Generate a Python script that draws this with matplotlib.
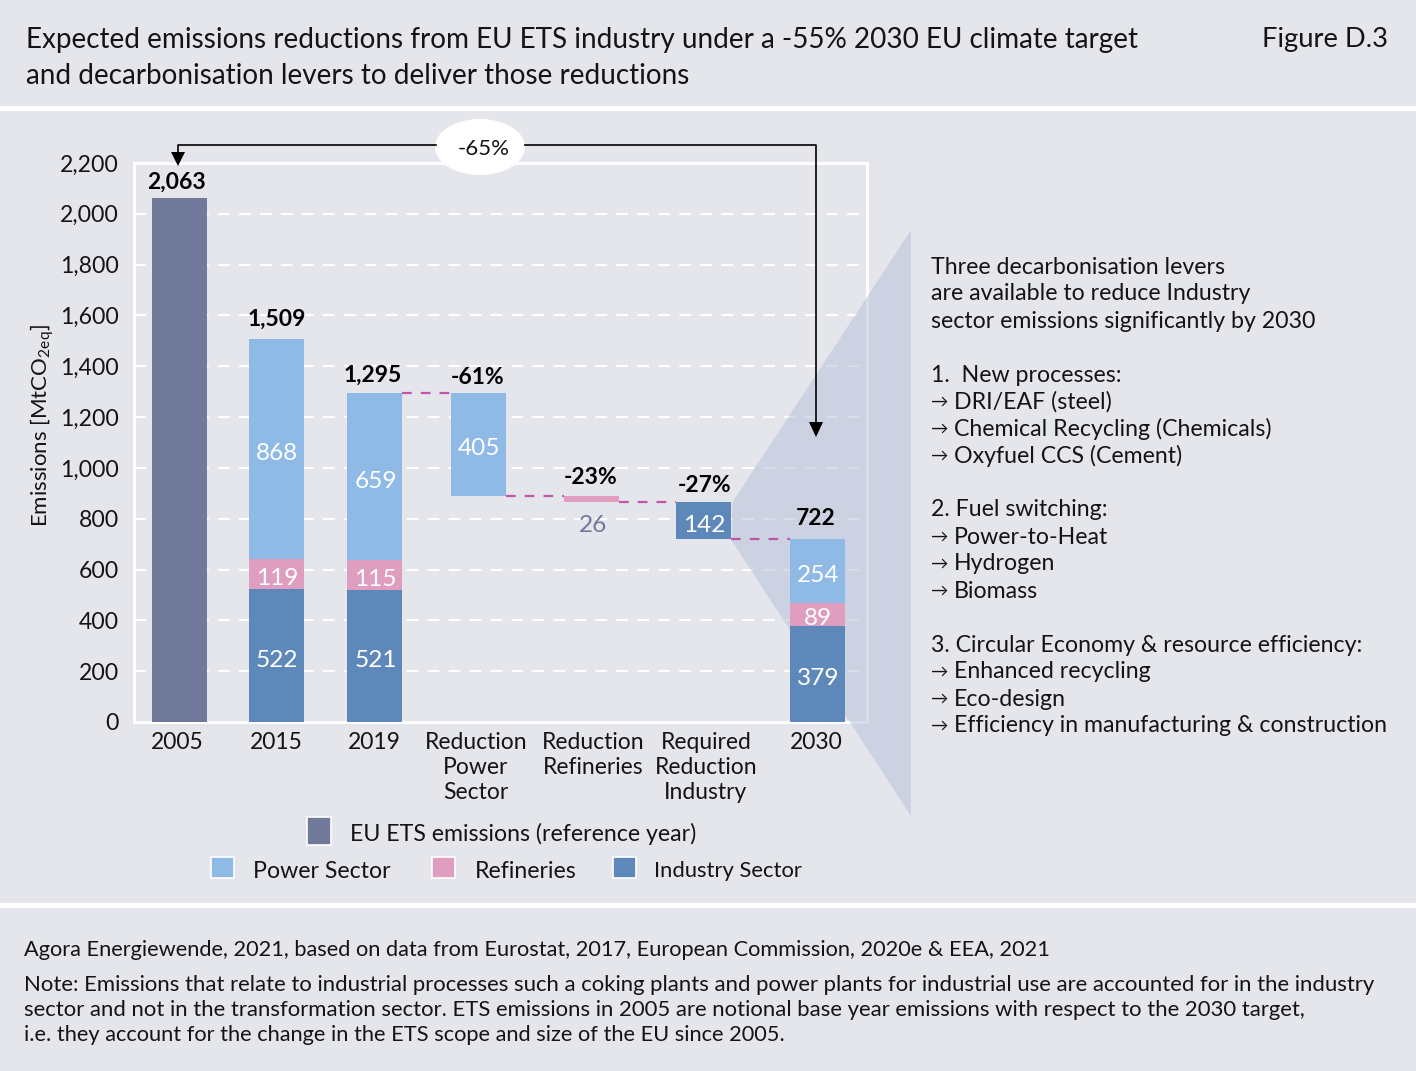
"""Expected emissions reductions from EU ETS industry, stacked waterfall with lever notes."""
import matplotlib
matplotlib.use("Agg")
import matplotlib.pyplot as plt
from matplotlib.patches import Ellipse, Polygon, Rectangle

plt.rcParams["font.family"] = ["Lato", "DejaVu Sans"]
plt.rcParams["mathtext.default"] = "regular"
plt.rcParams["lines.scale_dashes"] = False

# data
years_ref = 2063
power = [868, 659]
refineries = [119, 115]
industry = [522, 521]
total_labels = ["1,509", "1,295"]
power_2030, refineries_2030, industry_2030 = 254, 89, 379
reductions = [405, 26, 142]
reduction_labels = ["-61%", "-23%", "-27%"]
yticks = list(range(0, 2201, 200))
xlabels = ["2005", "2015", "2019", "Reduction\nPower\nSector", "Reduction\nRefineries",
           "Required\nReduction\nIndustry", "2030"]
lever_lines = [
    "Three decarbonisation levers", "are available to reduce Industry",
    "sector emissions significantly by 2030", "",
    "1.  New processes:", "→ DRI/EAF (steel)", "→ Chemical Recycling (Chemicals)",
    "→ Oxyfuel CCS (Cement)", "",
    "2. Fuel switching:", "→ Power-to-Heat", "→ Hydrogen", "→ Biomass", "",
    "3. Circular Economy & resource efficiency:", "→ Enhanced recycling", "→ Eco-design",
    "→ Efficiency in manufacturing & construction",
]

# colours and layout (pixels)
W, H = 1416, 1071
BG = "#e4e6ec"
C_REF, C_POWER, C_REFI, C_IND = "#727a9c", "#90bae6", "#df9dc0", "#5d88b9"
C_LINK = "#c155a8"
TXT = "#141414"
BAR_X = [179, 276, 374.5, 478, 591, 703.5, 817]
BAR_W = 55
TICK_X = [177, 276, 374, 476, 593, 706, 816]
AX_L, AX_R, AX_T, AX_B = 134, 867, 163, 722
VAL_SHIFT = 18  # inside-bar labels sit a little below the segment middle

fig = plt.figure(figsize=(W / 100, H / 100), dpi=100, facecolor=BG)
ax = fig.add_axes([AX_L / W, 1 - AX_B / H, (AX_R - AX_L) / W, (AX_B - AX_T) / H])
ax.set_facecolor("none")
ov = fig.add_axes([0, 0, 1, 1], zorder=5)
ov.set_xlim(0, W)
ov.set_ylim(H, 0)
ov.axis("off")

# separators
for y0, y1 in [(106, 111), (903, 908)]:
    fig.add_artist(Rectangle((0, 1 - y1 / H), 1, (y1 - y0) / H, transform=fig.transFigure,
                             color="white", lw=0, zorder=0))

ax.set_xlim(AX_L, AX_R)
ax.set_ylim(0, 2200)
for s in ax.spines.values():
    s.set_visible(False)
ax.add_patch(Rectangle((0, 0), 1, 1, transform=ax.transAxes, fill=False, ec="white", lw=2.2,
                       zorder=1, clip_on=False))
for v in yticks[1:-1]:
    ax.plot([AX_L, AX_R], [v, v], color="white", lw=1.5, ls=(0, (8.5, 6.6)), zorder=1)

# funnel behind the bars
ax.add_patch(Polygon([(732, 503), (911, 230), (911, 816), (732, 541)], transform=ov.transData,
                     fc="#bac2da", alpha=0.55, lw=0, zorder=1.5, clip_on=False))

ax.set_yticks(yticks)
ax.set_yticklabels([f"{v:,}" for v in yticks], fontsize=16.6, color=TXT)
ax.set_xticks(TICK_X)
ax.set_xticklabels(xlabels, fontsize=16.5, color=TXT, linespacing=1.25)
ax.tick_params(axis="x", length=0, pad=7)
ax.tick_params(axis="y", length=0, pad=11)
ax.set_ylabel(r"Emissions [MtCO$_{2eq}$]", fontsize=16, color=TXT)
ax.yaxis.set_label_coords(-0.106, 0.53)

# reference bar and stacks
ax.bar(BAR_X[0], years_ref, BAR_W, color=C_REF, zorder=2)
stacks = [(BAR_X[1], industry[0], refineries[0], power[0]),
          (BAR_X[2], industry[1], refineries[1], power[1]),
          (BAR_X[6], industry_2030, refineries_2030, power_2030)]
for x, ind, ref, pow_ in stacks:
    ax.bar(x, ind, BAR_W, color=C_IND, zorder=2)
    ax.bar(x, ref, BAR_W, bottom=ind, color=C_REFI, zorder=2)
    ax.bar(x, pow_, BAR_W, bottom=ind + ref, color=C_POWER, zorder=2)
    for val, mid in [(ind, ind / 2), (ref, ind + ref / 2), (pow_, ind + ref + pow_ / 2)]:
        ax.text(x + 1, mid - VAL_SHIFT, str(val), color="white", fontsize=17.6, ha="center", va="center", zorder=3)

# waterfall
level = sum(stacks[1][1:])
link_x = BAR_X[2] + BAR_W / 2
wf_colors = [C_POWER, C_REFI, C_IND]
wf_gaps = [20, 32, 24]
for i, (val, lab) in enumerate(zip(reductions, reduction_labels)):
    x = BAR_X[3 + i]
    ax.plot([link_x, x - BAR_W / 2], [level, level], color=C_LINK, lw=1.6, ls=(0, (7, 6.5)), zorder=2)
    ax.bar(x, val, BAR_W, bottom=level - val, color=wf_colors[i], zorder=2)
    ax.text(x + (0 if i != 2 else 1), level + wf_gaps[i], lab, fontsize=16.5, fontweight="bold",
            color="black", ha="center", va="bottom", zorder=3)
    if val > 50:
        ax.text(x + 1, level - val / 2 - VAL_SHIFT, str(val), color="white", fontsize=17.6,
                ha="center", va="center", zorder=3)
    else:
        ax.text(x + 2, level - val - 92, str(val), color=C_REF, fontsize=17.6, ha="center", va="center", zorder=3)
    level -= val
    link_x = x + BAR_W / 2
ax.plot([link_x, BAR_X[6] - BAR_W / 2], [level, level], color=C_LINK, lw=1.6, ls=(0, (7, 6.5)), zorder=2)

# totals
for x, val, lab, gap in [(BAR_X[0] - 2, years_ref, "2,063", 20),
                         (BAR_X[1] + 1, sum(stacks[0][1:]), total_labels[0], 36),
                         (BAR_X[2] - 2, sum(stacks[1][1:]), total_labels[1], 28),
                         (BAR_X[6] - 1, sum(stacks[2][1:]), "722", 36)]:
    ax.text(x, val + gap, lab, fontsize=16.5, fontweight="bold", color="black",
            ha="center", va="bottom", zorder=3)

# -65% bracket
ov.plot([178, 178, 436], [158, 145, 145], color="black", lw=1.2)
ov.plot([525, 816, 816], [145, 145, 424], color="black", lw=1.2)
ov.add_patch(Polygon([(171, 152), (185, 152), (178, 166)], fc="black", lw=0))
ov.add_patch(Polygon([(809, 422), (823, 422), (816, 437)], fc="black", lw=0))
ov.add_patch(Ellipse((480, 147), 90, 56, fc="white", lw=0))
ov.text(484, 149, "-65%", fontsize=16, color=TXT, ha="center", va="center")

# legend
for x, y, w, h, c, lab, tx, ty, fs in [(307, 817, 24, 28, C_REF, "EU ETS emissions (reference year)", 350, 834, 16.7),
                                       (211, 857, 23, 21, C_POWER, "Power Sector", 253, 871, 16.7),
                                       (432, 857, 23, 21, C_REFI, "Refineries", 475, 871, 16.7),
                                       (613, 857, 23, 21, C_IND, "Industry Sector", 654, 871, 15.8)]:
    ov.add_patch(Rectangle((x, y), w, h, fc=c, ec="white", lw=1.2))
    ov.text(tx, ty, lab, fontsize=fs, color=TXT, va="center")

# lever notes
for i, line in enumerate(lever_lines):
    y = 267 + 27 * i
    if line.startswith("→ "):
        ov.text(931, y, "→", fontsize=12.5, color=TXT, va="center")
        ov.text(954, y, line[2:], fontsize=16.7, color=TXT, va="center")
    elif line:
        ov.text(931, y, line, fontsize=16.7, color=TXT, va="center")

# header and footer
ov.text(26, 40, "Expected emissions reductions from EU ETS industry under a -55% 2030 EU climate target",
        fontsize=20.05, color=TXT, va="center")
ov.text(26, 76, "and decarbonisation levers to deliver those reductions", fontsize=20.05, color=TXT, va="center")
ov.text(1388, 40, "Figure D.3", fontsize=19.7, color=TXT, va="center", ha="right")
ov.text(24, 950, "Agora Energiewende, 2021, based on data from Eurostat, 2017, European Commission, 2020e & EEA, 2021",
        fontsize=15.7, color=TXT, va="center")
ov.text(24, 985, "Note: Emissions that relate to industrial processes such a coking plants and power plants for industrial use are accounted for in the industry",
        fontsize=15.95, color=TXT, va="center")
ov.text(24, 1010, "sector and not in the transformation sector. ETS emissions in 2005 are notional base year emissions with respect to the 2030 target,",
        fontsize=15.95, color=TXT, va="center")
ov.text(24, 1035, "i.e. they account for the change in the ETS scope and size of the EU since 2005.",
        fontsize=15.7, color=TXT, va="center")

fig.savefig("out.png", dpi=100, facecolor=BG)
